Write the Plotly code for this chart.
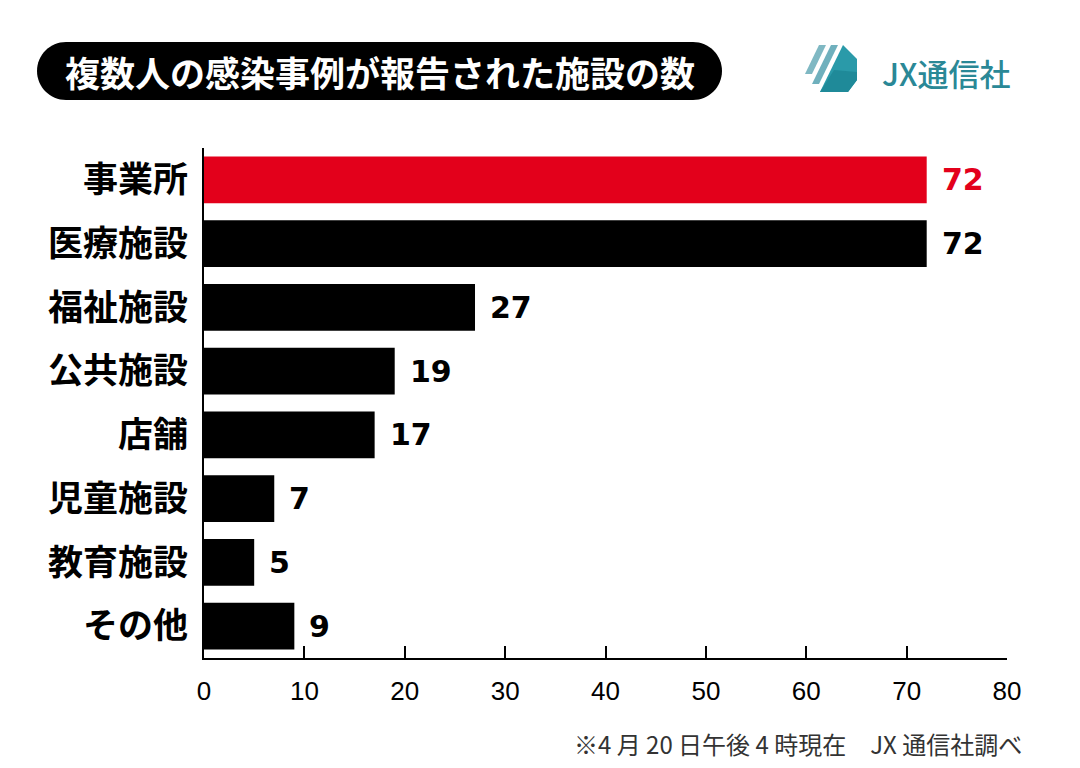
import plotly.graph_objects as go

# ---- data ----
categories = ["事業所", "医療施設", "福祉施設", "公共施設", "店舗", "児童施設", "教育施設", "その他"]
values = [72, 72, 27, 19, 17, 7, 5, 9]
highlight = [True, False, False, False, False, False, False, False]
x_ticks = [0, 10, 20, 30, 40, 50, 60, 70, 80]
title_text = "複数人の感染事例が報告された施設の数"
brand_text = "JX通信社"
note_text = "※4 月 20 日午後 4 時現在\u3000JX 通信社調べ"

RED = "#e3001b"
BLACK = "#000000"
TEAL = "#2a8896"

W, H = 1080, 768
L, R, T, B = 204, 73, 148, 110
PW, PH = W - L - R, H - T - B


def px(x):
    return (x - L) / PW


def py(y):
    return (H - B - y) / PH


def poly(points):
    return "M " + " L ".join(f"{px(a):.5f},{py(b):.5f}" for a, b in points) + " Z"


def rounded_rect(x0, y0, x1, y1, r):
    k = 0.5523 * r
    segs = [
        f"M {px(x0 + r):.5f},{py(y0):.5f}",
        f"L {px(x1 - r):.5f},{py(y0):.5f}",
        f"C {px(x1 - r + k):.5f},{py(y0):.5f} {px(x1):.5f},{py(y0 + r - k):.5f} {px(x1):.5f},{py(y0 + r):.5f}",
        f"L {px(x1):.5f},{py(y1 - r):.5f}",
        f"C {px(x1):.5f},{py(y1 - r + k):.5f} {px(x1 - r + k):.5f},{py(y1):.5f} {px(x1 - r):.5f},{py(y1):.5f}",
        f"L {px(x0 + r):.5f},{py(y1):.5f}",
        f"C {px(x0 + r - k):.5f},{py(y1):.5f} {px(x0):.5f},{py(y1 - r + k):.5f} {px(x0):.5f},{py(y1 - r):.5f}",
        f"L {px(x0):.5f},{py(y0 + r):.5f}",
        f"C {px(x0):.5f},{py(y0 + r - k):.5f} {px(x0 + r - k):.5f},{py(y0):.5f} {px(x0 + r):.5f},{py(y0):.5f}",
        "Z",
    ]
    return " ".join(segs)


colors = [RED if h else BLACK for h in highlight]

fig = go.Figure(
    go.Bar(
        x=values,
        y=categories,
        orientation="h",
        marker=dict(color=colors, line=dict(width=0)),
        width=0.73,
        hoverinfo="x+y",
    )
)

annotations = []
for c, v, col in zip(categories, values, colors):
    annotations.append(
        dict(
            x=v, y=c, xref="x", yref="y", text=str(v), showarrow=False,
            xanchor="left", yanchor="middle", xshift=13,
            font=dict(family="DejaVu Sans, Liberation Sans, sans-serif", size=30, color=col, weight="bold"),
        )
    )

# title text
annotations.append(
    dict(
        x=px(380), y=py(71), xref="paper", yref="paper", text=title_text, showarrow=False,
        xanchor="center", yanchor="middle",
        font=dict(family="Noto Sans CJK JP", size=35, color="white", weight="bold"),
    )
)
# brand text
annotations.append(
    dict(
        x=px(880), y=py(72), xref="paper", yref="paper", text=brand_text, showarrow=False,
        xanchor="left", yanchor="middle",
        font=dict(family="Noto Sans CJK JP", size=31, color=TEAL, weight=500),
    )
)
# footnote
annotations.append(
    dict(
        x=px(1024), y=py(743), xref="paper", yref="paper", text=note_text, showarrow=False,
        xanchor="right", yanchor="middle",
        font=dict(family="Noto Sans CJK JP", size=24, color="#333333"),
    )
)

shapes = [
    dict(type="path", xref="paper", yref="paper", path=rounded_rect(37, 42, 722, 100, 29),
         fillcolor="black", line=dict(width=0), layer="above"),
    # logo stripes
    dict(type="path", xref="paper", yref="paper",
         path=poly([(819, 45), (826, 45), (812, 74), (805, 74)]),
         fillcolor="#7fb8c3", line=dict(width=0)),
    dict(type="path", xref="paper", yref="paper",
         path=poly([(831, 45), (838, 45), (819, 84), (812, 84)]),
         fillcolor="#6fb0bd", line=dict(width=0)),
    # logo cube
    dict(type="path", xref="paper", yref="paper",
         path=poly([(843, 45), (857, 59), (857, 80), (848, 92), (820, 92)]),
         fillcolor="#2a9aa9", line=dict(width=0)),
    dict(type="path", xref="paper", yref="paper",
         path=poly([(834, 70), (857, 72), (857, 80), (848, 92), (820, 92)]),
         fillcolor="#1f8a99", line=dict(width=0)),
]

fig.update_layout(
    width=W, height=H,
    margin=dict(l=L, r=R, t=T, b=B, pad=0),
    paper_bgcolor="white", plot_bgcolor="white",
    showlegend=False,
    annotations=annotations,
    shapes=shapes,
    xaxis=dict(
        range=[0, 80], tickvals=x_ticks, ticktext=[str(t) for t in x_ticks],
        ticks="inside", ticklen=12, tickwidth=2, tickcolor="black",
        showline=True, linecolor="black", linewidth=2,
        showgrid=False, zeroline=False, fixedrange=True,
        ticklabelstandoff=9,
        tickfont=dict(family="Liberation Sans, Arial, sans-serif", size=26, color="black"),
    ),
    yaxis=dict(
        range=[7.5, -0.5], type="category",
        ticks="", showline=True, linecolor="black", linewidth=2,
        showgrid=False, zeroline=False, fixedrange=True,
        ticklabelstandoff=7,
        tickfont=dict(family="Noto Sans CJK JP", size=35, color="black", weight="bold"),
    ),
)

fig.write_html("out.html", config={"displayModeBar": False},
               post_script="document.body.style.margin='0';")
